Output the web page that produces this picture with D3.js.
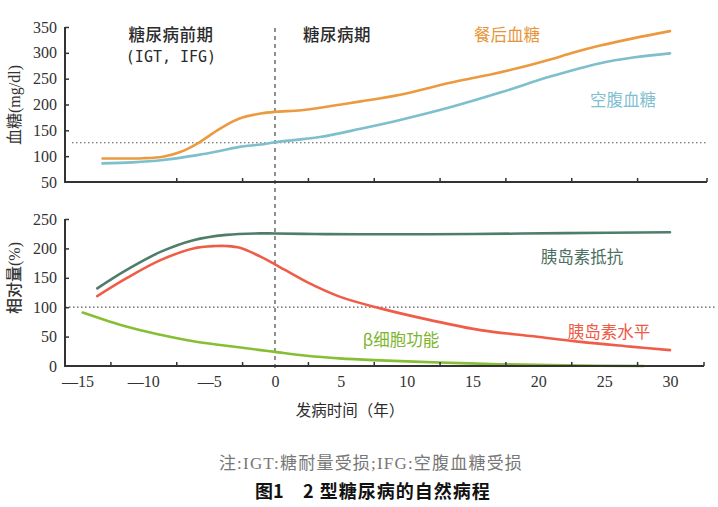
<!DOCTYPE html>
<html><head><meta charset="utf-8">
<script src="https://cdn.jsdelivr.net/npm/d3@7"></script>
<style>
html,body{margin:0;padding:0;background:#fff;}
svg{display:block;}
</style></head>
<body>
<svg id="chart" width="718" height="507"></svg>
<script>
// ---- data ----
const xTickLabels = [-15,-10,-5,0,5,10,15,20,25,30];
const xTickMarks = [-12.5,-7.5,-2.5,2.5,7.5,12.5,17.5,22.5,27.5];
const topYTicks = [50,100,150,200,250,300,350];
const botYTicks = [0,50,100,150,200,250];

const postprandialYears = [-13.1,-10,-8.5,-7.2,-5.9,-4.2,-2.7,-1.1,0.1,2,4.5,6.5,9.5,13.3,15.8,18.4,20.9,22.6,24.7,27.2,30];
const postprandialVals  = [95.5,96,99,108,124.5,153,173,182.5,186,189,198,206,219,242,255,270,287,300,314,328,342];
const fastingYears = [-13.1,-10.8,-8.5,-5.9,-4.2,-2.7,-1.1,0,3.4,6.5,9.5,13.3,17.1,20.9,24.7,27.2,30];
const fastingVals  = [86,88,92.5,102,110,118,122.5,127,137,153,170,194.5,223,254,280,291,299];

const resistYears = [-13.5,-11.3,-8.7,-6.2,-3.7,-1.1,0,3,6.5,15,22,30];
const resistVals  = [132,163,194,214,223,225.6,225.3,224.5,224,224.5,226,227.5];
const insulinYears = [-13.5,-11.3,-8.7,-6.2,-4.5,-3.7,-2.66,-1.1,0,2.4,4.9,8,11.8,15.6,19.4,23.2,27,30];
const insulinVals  = [119,149,180,200,204,204,201,186,173,143,118,98,78,61,51,41,33,27];
const betaYears = [-14.6,-11.3,-8.7,-6.2,-3.7,-1.1,0,2.4,4.9,7.5,12.5,17,22,28];
const betaVals  = [91,67,53,42,34.5,27,24,17.5,13,10,6,3,1,0];

const glucoseThreshold = 126;
const relativeBaseline = 100;

// ---- layout ----
const svg = d3.select("#chart");
const serif = "'Liberation Serif','DejaVu Serif',serif";
const cjk = "'Noto Sans CJK SC','Noto Sans',sans-serif";
const axisColor = "#333";

const x = d3.scaleLinear().domain([-15,30]).range([77.5,670]);
const yTop = d3.scaleLinear().domain([50,350]).range([182,27]);
const yBot = d3.scaleLinear().domain([0,250]).range([366,219]);
const axisLeftX = 65, axisRightTop = 707, axisRightBot = 704;

function zip(a,b){return a.map((v,i)=>[v,b[i]]);}
const curve = d3.curveCatmullRom.alpha(0.5);
const lineTop = d3.line().x(d=>x(d[0])).y(d=>yTop(d[1])).curve(curve);
const lineBot = d3.line().x(d=>x(d[0])).y(d=>yBot(d[1])).curve(curve);

// reference lines
svg.append("line").attr("x1",72).attr("x2",706).attr("y1",yTop(glucoseThreshold)).attr("y2",yTop(glucoseThreshold))
  .attr("stroke","#555").attr("stroke-width",1.2).attr("stroke-dasharray","1.5,2.5");
svg.append("line").attr("x1",axisLeftX).attr("x2",717).attr("y1",yBot(relativeBaseline)).attr("y2",yBot(relativeBaseline))
  .attr("stroke","#555").attr("stroke-width",1.2).attr("stroke-dasharray","1.5,2.5");
svg.append("line").attr("x1",x(0)).attr("x2",x(0)).attr("y1",28).attr("y2",368)
  .attr("stroke","#555").attr("stroke-width",1.3).attr("stroke-dasharray","4,4");

// series
const series = [
  {d: zip(postprandialYears,postprandialVals), line: lineTop, color:"#EB9A3F"},
  {d: zip(fastingYears,fastingVals), line: lineTop, color:"#7DBFCD"},
  {d: zip(resistYears,resistVals), line: lineBot, color:"#4E7D68"},
  {d: zip(insulinYears,insulinVals), line: lineBot, color:"#EF5D48"},
  {d: zip(betaYears,betaVals), line: lineBot, color:"#86BE35"}
];
series.forEach(s=>{
  svg.append("path").attr("d",s.line(s.d)).attr("fill","none")
    .attr("stroke",s.color).attr("stroke-width",2.6).attr("stroke-linecap","round");
});

// axes
function styleAxis(g){
  g.selectAll("path.domain").remove();
  g.selectAll("line").attr("stroke",axisColor).attr("stroke-width",1.5);
  g.selectAll("text").attr("font-family",serif).attr("font-size",16).attr("fill","#333");
}
const gTopY = svg.append("g").attr("transform",`translate(${axisLeftX},0)`)
  .call(d3.axisLeft(yTop).tickValues(topYTicks).tickSize(-4).tickPadding(8));
styleAxis(gTopY);
const gBotY = svg.append("g").attr("transform",`translate(${axisLeftX},0)`)
  .call(d3.axisLeft(yBot).tickValues(botYTicks).tickSize(-4).tickPadding(8));
styleAxis(gBotY);
gBotY.selectAll(".tick").filter(d=>d===0).select("line").remove();
gTopY.selectAll(".tick").filter(d=>d===50).select("line").remove();
const gTopX = svg.append("g").attr("transform",`translate(0,${yTop(50)})`)
  .call(d3.axisBottom(x).tickValues(xTickMarks.slice(1)).tickSize(-4).tickFormat(""));
styleAxis(gTopX);
const gBotX = svg.append("g").attr("transform",`translate(0,${yBot(0)})`)
  .call(d3.axisBottom(x).tickValues(xTickMarks).tickSize(-4).tickFormat(""));
styleAxis(gBotX);
const gBotXL = svg.append("g").attr("transform",`translate(0,${yBot(0)})`)
  .call(d3.axisBottom(x).tickValues(xTickLabels).tickSize(0).tickPadding(10)
    .tickFormat(d=> d<0 ? "\u2014"+Math.abs(d) : String(d)));
styleAxis(gBotXL);
gBotXL.selectAll("line").remove();
svg.append("line").attr("x1",axisRightTop).attr("x2",axisRightTop).attr("y1",yTop(50)).attr("y2",yTop(50)-4).attr("stroke",axisColor).attr("stroke-width",1.5);
svg.append("line").attr("x1",axisRightBot).attr("x2",axisRightBot).attr("y1",yBot(0)).attr("y2",yBot(0)-4).attr("stroke",axisColor).attr("stroke-width",1.5);

svg.append("path").attr("d",`M${axisLeftX},${yTop(350)}V${yTop(50)}H${axisRightTop}`)
  .attr("fill","none").attr("stroke",axisColor).attr("stroke-width",2);
svg.append("path").attr("d",`M${axisLeftX},${yBot(250)}V${yBot(0)}H${axisRightBot}`)
  .attr("fill","none").attr("stroke",axisColor).attr("stroke-width",2);

// y titles
const t1 = svg.append("text").attr("transform","translate(20,105) rotate(-90)")
  .attr("text-anchor","middle").attr("font-size",16).attr("fill","#333");
t1.append("tspan").attr("font-family",cjk).text("血糖");
t1.append("tspan").attr("font-family",serif).text("(mg/dl)");
const t2 = svg.append("text").attr("transform","translate(20,278) rotate(-90)")
  .attr("text-anchor","middle").attr("font-size",16).attr("fill","#333");
t2.append("tspan").attr("font-family",cjk).attr("font-weight",500).text("相对量");
t2.append("tspan").attr("font-family",serif).text("(%)");

// annotations
function label(txt,cx,cy,color,opts={}){
  return svg.append("text").attr("x",cx).attr("y",cy).attr("dy","0.36em")
    .attr("text-anchor","middle").attr("font-family",opts.font||cjk)
    .attr("font-size",opts.size||16.5).attr("font-weight",opts.weight||500)
    .attr("fill",color).attr("letter-spacing",opts.ls||0).text(txt);
}
label("糖尿病前期",171,35,"#2b2b2b",{ls:0.5});
label("(IGT, IFG)",171,57,"#2b2b2b",{font:"'DejaVu Sans Mono','Liberation Mono',monospace",size:15,weight:400});
label("糖尿病期",337,35,"#2b2b2b",{ls:0.5});
label("餐后血糖",507,35,"#E8953A",{weight:400});
label("空腹血糖",623,100,"#7FBFD0",{weight:400});
label("胰岛素抵抗",582,257,"#4B6F60",{weight:400});
label("胰岛素水平",609,332,"#EE5A45",{weight:400});
label("β细胞功能",401,340,"#7DB52E",{weight:400});
label("发病时间（年）",350,410,"#2b2b2b",{weight:400,size:15.5});

// captions
svg.append("text").attr("x",371).attr("y",463).attr("dy","0.36em").attr("text-anchor","middle")
  .attr("font-family","'Liberation Serif','Noto Sans CJK SC',serif").attr("font-size",17).attr("letter-spacing",1.2).attr("fill","#777")
  .text("注:IGT:糖耐量受损;IFG:空腹血糖受损");
svg.append("text").attr("x",255).attr("y",492).attr("dy","0.36em").attr("text-anchor","start")
  .attr("font-family","'Noto Sans CJK SC',sans-serif").attr("font-size",18).attr("font-weight",700).attr("fill","#111")
  .text("图1");
svg.append("text").attr("x",303).attr("y",492).attr("dy","0.36em").attr("text-anchor","start")
  .attr("font-family","'Noto Sans CJK SC',sans-serif").attr("font-size",18).attr("font-weight",700).attr("letter-spacing",1).attr("fill","#111")
  .text("2 型糖尿病的自然病程");
</script>
</body></html>
